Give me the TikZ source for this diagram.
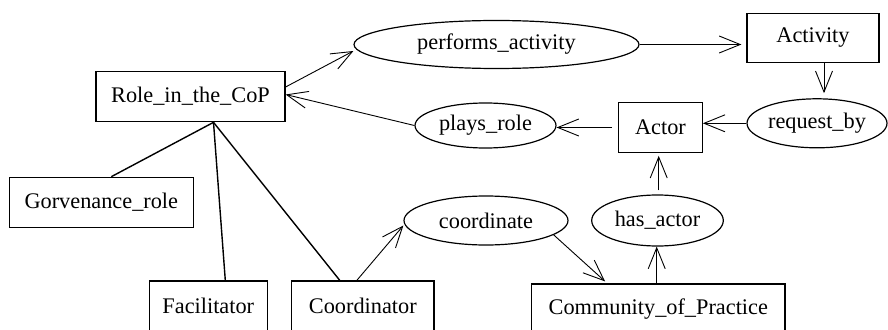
\documentclass[tikz,border=0pt]{standalone}
\usepackage{fontspec}
\setmainfont{Liberation Serif}
\usetikzlibrary{arrows.meta,shapes.geometric}
\begin{document}
\begin{tikzpicture}[x=1pt,y=-1pt,
  box/.style={draw,line width=1.2pt,rectangle,inner sep=0pt,font=\fontsize{22.3}{26}\selectfont},
  ell/.style={draw,line width=1.2pt,ellipse,inner sep=0pt,font=\fontsize{22.3}{26}\selectfont},
  arr/.style={line width=0.9pt,-{Straight Barb[length=21pt,width=17pt,line width=0.9pt]}},
  link/.style={line width=1.4pt}]
\useasboundingbox (0,0) rectangle (888,329);
\clip (0,0) rectangle (888,329);
\node[box,minimum width=189pt,minimum height=50.5pt] (role) at (190.5,96.5) {Role\_in\_the\_CoP};
\node[ell,minimum width=285pt,minimum height=48pt] (perf) at (496.5,44.5) {performs\_activity};
\node[box,minimum width=132pt,minimum height=49.5pt] (act) at (813,38) {Activity};
\node[ell,minimum width=140pt,minimum height=49pt] (req) at (817,123.3) {request\_by};
\node[box,minimum width=83.5pt,minimum height=49.5pt] (actor) at (660.5,127.5) {Actor};
\node[ell,minimum width=141pt,minimum height=45pt] (plays) at (485.5,125.5) {plays\_role};
\node[box,minimum width=184pt,minimum height=50pt] (gov) at (101.3,202.3) {Gorvenance\_role};
\node[box,minimum width=118pt,minimum height=50pt,text depth=0pt] (fac) at (208.3,306) {Facilitator};
\node[box,minimum width=142.3pt,minimum height=50pt] (coord) at (362.8,306) {Coordinator};
\node[ell,minimum width=164pt,minimum height=49pt] (coordinate) at (486,220.5) {coordinate};
\node[ell,minimum width=131.6pt,minimum height=51pt] (hasactor) at (657.5,220.5) {has\_actor};
\node[box,minimum width=253.3pt,minimum height=50pt] (cop) at (658.3,309) {Community\_of\_Practice};
\coordinate (hub) at ([xshift=23pt]role.south);
% arrows
\draw[arr] ([yshift=9.5pt]role.east) -- ([yshift=-6.5pt]perf.west);
\draw[arr,shorten >=5pt] (perf.east) -- (perf.east -| act.west);
\draw[arr,shorten >=5pt] ([xshift=11pt]act.south) -- ([xshift=11pt]act.south |- req.north);
\draw[arr] (req.west) -- (req.west -| actor.east);
\draw[arr,shorten <=6pt] (actor.west) -- (actor.west -| plays.east);
\draw[arr] (plays.west) -- ([yshift=2pt]role.east);
\draw[arr] ([xshift=-6pt]coord.north) -- ([yshift=-5pt]coordinate.west);
\draw[arr,shorten >=3pt] (coordinate.-12) -- ([xshift=-51pt]cop.north);
\draw[arr] ([xshift=-1.6pt]cop.north) -- ([xshift=-1.6pt]cop.north |- hasactor.south);
\draw[arr,shorten <=4pt,shorten >=3pt] ([xshift=1.2pt]hasactor.north) -- ([xshift=1.2pt]hasactor.north |- actor.south);
% plain links
\draw[link] (hub) -- ([xshift=10pt]gov.north);
\draw[link] (hub) -- ([xshift=17pt]fac.north);
\draw[link] (hub) -- ([xshift=-23pt]coord.north);
\end{tikzpicture}
\end{document}
